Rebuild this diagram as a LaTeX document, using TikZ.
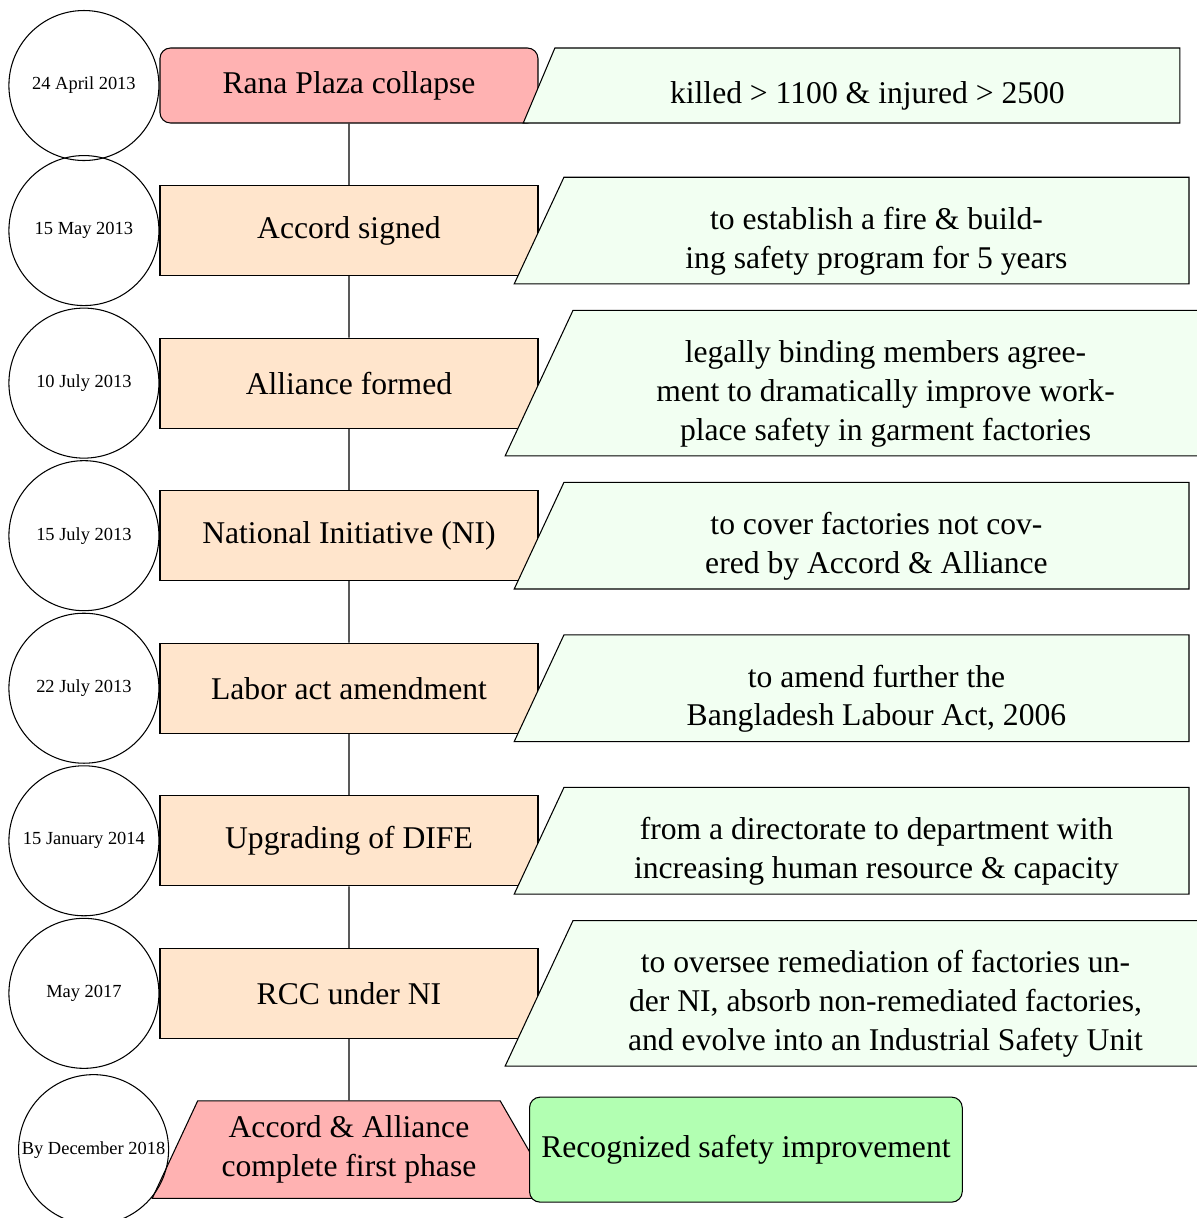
\documentclass[tikz,border=0pt]{standalone}
\usepackage{fontspec}
\setmainfont{Liberation Serif}
\usetikzlibrary{positioning}
\usetikzlibrary{shapes.geometric}

\begin{document}
\begin{tikzpicture}[
    node distance=0.82cm,
    datenode/.style={circle, draw, minimum size=2cm, inner sep=1pt, font=\scriptsize},
    startstop/.style={rectangle, rounded corners, minimum width=5.04cm, minimum height=1cm, draw, fill=red!30, font=\large},
    process/.style={rectangle, minimum width=5.04cm, minimum height=1.2cm, draw, fill=orange!20, font=\large},
    note/.style={trapezium, trapezium left angle=65, trapezium right angle=90, trapezium stretches=true,
        draw, fill=green!5, text width=8.1cm, align=flush center, minimum height=1cm,
        font={\fontsize{12pt}{14.7pt}\selectfont}, execute at begin node={\rule{0pt}{16.5pt}}},
    finish/.style={trapezium, trapezium left angle=65, trapezium right angle=60, draw, fill=red!30,
        text width=3.8cm, align=flush center, inner ysep=5.7pt, font={\fontsize{12pt}{14.7pt}\selectfont}},
    outcome/.style={rectangle, rounded corners, draw, fill=green!30, minimum width=5.77cm, minimum height=1.4cm, font=\large}
]

    \useasboundingbox (0,0) rectangle (15.96,-16.24);

    % Events
    \node[startstop] (ev1) at (4.653,-1.14) {Rana Plaza collapse};
    \node[process, below=of ev1] (ev2) {Accord signed};
    \node[process, below=of ev2] (ev3) {Alliance formed};
    \node[process, below=of ev3] (ev4) {National Initiative (NI)};
    \node[process, below=of ev4] (ev5) {Labor act amendment};
    \node[process, below=of ev5] (ev6) {Upgrading of DIFE};
    \node[process, below=of ev6] (ev7) {RCC under NI};
    \node[finish, below=of ev7] (phase) {Accord \& Alliance\\complete first phase};

    % Timeline
    \draw (ev1) -- (ev2) -- (ev3) -- (ev4) -- (ev5) -- (ev6) -- (ev7) -- (phase);

    % Dates
    \node[datenode, left=0pt of ev1] (date1) {24 April 2013};
    \node[datenode, left=0pt of ev2] (date2) {15 May 2013};
    \node[datenode, left=0pt of ev3] (date3) {10 July 2013};
    \node[datenode, left=0pt of ev4] (date4) {15 July 2013};
    \node[datenode, left=0pt of ev5] (date5) {22 July 2013};
    \node[datenode, left=0pt of ev6] (date6) {15 January 2014};
    \node[datenode, left=0pt of ev7] (date7) {May 2017};
    \node[datenode, left=0.07cm of phase] (date8) {By December 2018};

    % Details
    \node[note, right=0pt of ev1] (info1) {killed > 1100 \& injured > 2500};
    \node[note, right=0pt of ev2] (info2) {to establish a fire \& build-\\ing safety program for 5 years};
    \node[note, right=0pt of ev3] (info3) {legally binding members agree-\\ment to dramatically improve work-\\place safety in garment factories};
    \node[note, right=0pt of ev4] (info4) {to cover factories not cov-\\ered by Accord \& Alliance};
    \node[note, right=0pt of ev5] (info5) {to amend further the\\Bangladesh Labour Act, 2006};
    \node[note, right=0pt of ev6] (info6) {from a directorate to department with\\increasing human resource \& capacity};
    \node[note, right=0pt of ev7] (info7) {to oversee remediation of factories un-\\der NI, absorb non-remediated factories,\\and evolve into an Industrial Safety Unit};

    % Result
    \node[outcome, right=0pt of phase] (result) {Recognized safety improvement};

\end{tikzpicture}
\end{document}
